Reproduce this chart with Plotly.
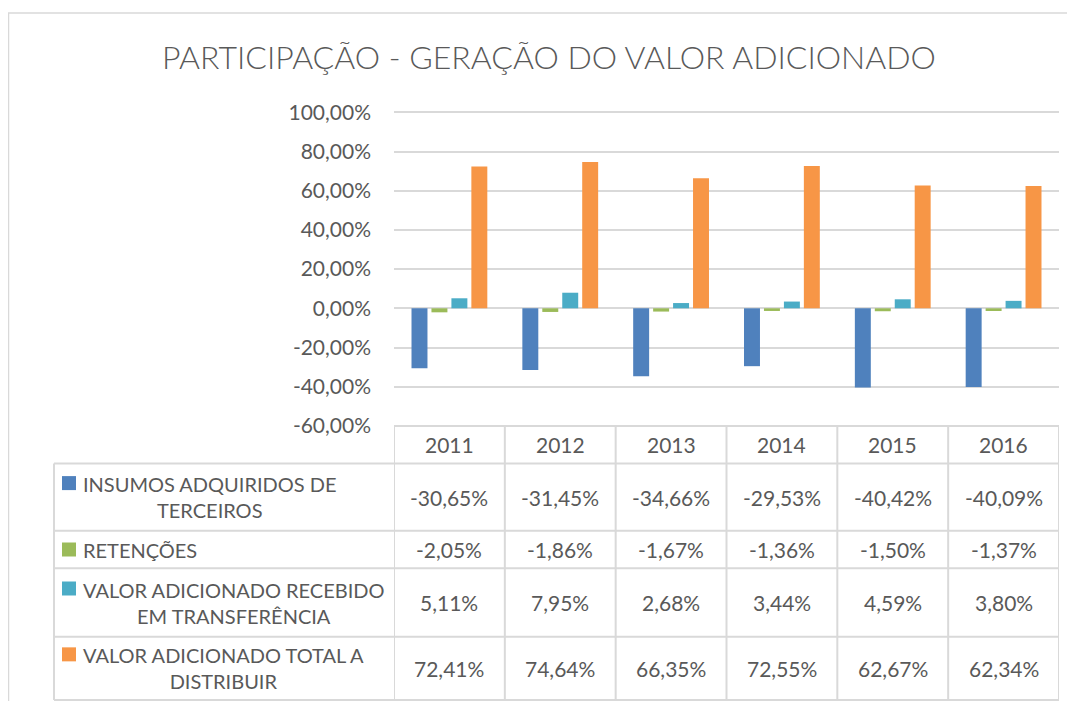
import plotly.graph_objects as go

years = ["2011", "2012", "2013", "2014", "2015", "2016"]
series_names = [
    "INSUMOS ADQUIRIDOS DE<br>TERCEIROS",
    "RETENÇÕES",
    "VALOR ADICIONADO RECEBIDO<br>EM TRANSFERÊNCIA",
    "VALOR ADICIONADO TOTAL A<br>DISTRIBUIR",
]
insumos = [-30.65, -31.45, -34.66, -29.53, -40.42, -40.09]
retencoes = [-2.05, -1.86, -1.67, -1.36, -1.50, -1.37]
recebido = [5.11, 7.95, 2.68, 3.44, 4.59, 3.80]
total = [72.41, 74.64, 66.35, 72.55, 62.67, 62.34]
series_values = [insumos, retencoes, recebido, total]
colors = ["#4F81BD", "#9BBB59", "#4BACC6", "#F79646"]
tick_vals = [-60, -40, -20, 0, 20, 40, 60, 80, 100]
tick_text = ["-60,00%", "-40,00%", "-20,00%", "0,00%", "20,00%", "40,00%", "60,00%", "80,00%", "100,00%"]
title_text = "PARTICIPAÇÃO - GERAÇÃO DO VALOR ADICIONADO"

# page body has an 8px margin, so the figure is 16px smaller than the window
OFF = 8
W, H = 1075 - 2 * OFF, 709 - 2 * OFF
FONT = "Lato"
TXT = "#595959"
GRID = "#D9D9D9"


def px(x):
    return (x - OFF) / W


def py(y):
    return 1 - (y - OFF) / H


def fmt(v):
    return f"{v:.2f}".replace(".", ",") + "%"


fig = go.Figure()
for name, vals, col in zip(series_names, series_values, colors):
    fig.add_trace(go.Bar(x=years, y=vals, name=name.replace("<br>", " "),
                         marker=dict(color=col, line=dict(width=0))))

plot_left, plot_right = 394, 1059
y100, y_bot = 112.3, 425.9
y_lo, y_hi = -60, 104
unit = (y_bot - y100) / 160.0
y_top = y_bot - (y_hi - y_lo) * unit
fig.update_layout(
    width=W, height=H, autosize=False,
    margin=dict(l=0, r=0, t=0, b=0, pad=0, autoexpand=False),
    paper_bgcolor="white", plot_bgcolor="white",
    showlegend=False,
    barmode="group", bargap=0.28, bargroupgap=0.2,
    font=dict(family=FONT, color=TXT, size=21),
    xaxis=dict(domain=[px(plot_left), px(plot_right)], range=[-0.5, 5.5],
               showticklabels=False, showgrid=False, zeroline=False, showline=False,
               ticks="", automargin=False),
    yaxis=dict(domain=[py(y_bot), py(y_top)], range=[y_lo, y_hi],
               tickvals=tick_vals, ticktext=tick_text,
               tickfont=dict(family=FONT, color=TXT, size=21),
               showgrid=True, gridcolor=GRID, gridwidth=1.5,
               zeroline=True, zerolinecolor=GRID, zerolinewidth=1.5,
               showline=False, ticks="", ticklabelstandoff=22, automargin=False),
)

shapes = []
# outer frame
shapes.append(dict(type="rect", xref="paper", yref="paper",
                   x0=px(8.5), x1=px(1120), y0=py(760), y1=py(13),
                   line=dict(color=GRID, width=1.5), fillcolor="rgba(0,0,0,0)", layer="below"))

row_edges = [425.9, 463.5, 530.7, 568.3, 636.7, 700]
label_left = 54
# horizontal lines of the table
for i, ye in enumerate(row_edges):
    x0 = plot_left if i == 0 else label_left
    shapes.append(dict(type="line", xref="paper", yref="paper",
                       x0=px(x0), x1=px(plot_right), y0=py(ye), y1=py(ye),
                       line=dict(color=GRID, width=2)))
# vertical lines at category boundaries
for i in range(len(years) + 1):
    shapes.append(dict(type="line", xref="x", yref="paper",
                       x0=i - 0.5, x1=i - 0.5, y0=py(row_edges[0]), y1=py(row_edges[-1]),
                       line=dict(color=GRID, width=2)))
# left edge of label column
shapes.append(dict(type="line", xref="paper", yref="paper",
                   x0=px(label_left), x1=px(label_left), y0=py(row_edges[1]), y1=py(row_edges[-1]),
                   line=dict(color=GRID, width=2)))

annotations = []
annotations.append(dict(text=title_text, xref="paper", yref="paper",
                        x=px(549), y=py(56.5), xanchor="center", yanchor="middle",
                        showarrow=False, font=dict(family=FONT, size=32, color=TXT, weight=300)))
# year header
hdr_c = (row_edges[0] + row_edges[1]) / 2
for i, yr in enumerate(years):
    annotations.append(dict(text=yr, xref="x", yref="paper", x=i, y=py(hdr_c),
                            xanchor="center", yanchor="middle", showarrow=False,
                            font=dict(family=FONT, size=21, color=TXT)))

for r, (name, vals, col) in enumerate(zip(series_names, series_values, colors)):
    top, bot = row_edges[r + 1], row_edges[r + 2]
    c = (top + bot) / 2
    two_lines = "<br>" in name
    sq_c = c - 14 if two_lines else c
    shapes.append(dict(type="rect", xref="paper", yref="paper",
                       x0=px(62), x1=px(76), y0=py(sq_c + 7), y1=py(sq_c - 7),
                       fillcolor=col, line=dict(width=0)))
    annotations.append(dict(text=name, xref="paper", yref="paper", x=px(81), y=py(c),
                            xanchor="left", yanchor="middle", align="center",
                            showarrow=False, font=dict(family=FONT, size=20, color=TXT)))
    for i, v in enumerate(vals):
        annotations.append(dict(text=fmt(v), xref="x", yref="paper", x=i, y=py(c),
                                xanchor="center", yanchor="middle", showarrow=False,
                                font=dict(family=FONT, size=21, color=TXT)))

fig.update_layout(shapes=shapes, annotations=annotations)
fig.write_html("out.html")
